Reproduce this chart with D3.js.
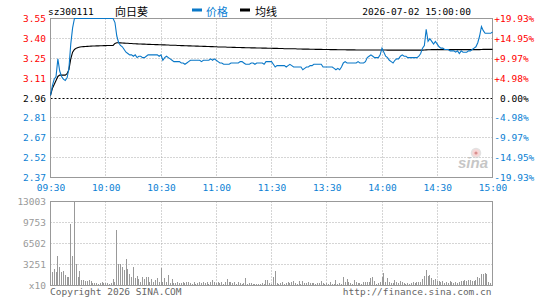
<!DOCTYPE html>
<html><head><meta charset="utf-8">
<script src="https://cdn.jsdelivr.net/npm/d3@7"></script>
<style>
body{margin:0;background:#fff;}
svg{display:block;}
text{font-family:"DejaVu Sans Mono","Liberation Mono",monospace;font-size:9.5px;}
.cjk{font-family:"Noto Sans CJK SC",sans-serif;font-size:11px;}
</style></head>
<body><svg id="c" width="545" height="300"></svg>
<script>
// ---------- DATA ----------
const code = "sz300111";
const stockName = "向日葵";
const dateText = "2026-07-02 15:00:00";
const prevClose = 2.96;
const timeLabels = ["09:30","10:00","10:30","11:00","11:30","13:30","14:00","14:30","15:00"];
const timeTickMinutes = [0,30,60,90,120,150,180,210,240];
const priceTickValues = [3.55,3.4025,3.255,3.1075,2.96,2.8125,2.665,2.5175,2.37];
const priceTickLabels = ["3.55","3.40","3.25","3.11","2.96","2.81","2.67","2.52","2.37"];
const pctTickLabels = ["+19.93%","+14.95%","+9.97%","+4.98%"," 0.00%","-4.98%","-9.97%","-14.95%","-19.93%"];
const volTickValues = [13003,9753,6502,3251,0];
const volTickLabels = ["13003","9753","6502","3251","x10"];

// one value per minute, 09:30 .. 15:00 (241 points)
const price = [
2.98,3.05,3.10,3.12,3.25,3.16,3.12,3.10,3.09,3.11,
3.18,3.36,3.48,3.55,3.55,3.55,3.55,3.55,3.55,3.55,
3.55,3.55,3.55,3.55,3.55,3.55,3.55,3.55,3.55,3.55,
3.55,3.55,3.55,3.55,3.55,3.52,3.42,3.37,3.35,3.34,
3.32,3.30,3.29,3.28,3.28,3.27,3.28,3.26,3.27,3.27,
3.26,3.26,3.27,3.28,3.28,3.28,3.28,3.28,3.28,3.27,
3.28,3.24,3.26,3.27,3.26,3.25,3.24,3.23,3.23,3.23,
3.23,3.22,3.22,3.21,3.22,3.23,3.24,3.24,3.24,3.24,
3.24,3.24,3.23,3.24,3.24,3.24,3.24,3.25,3.24,3.25,
3.24,3.23,3.22,3.22,3.21,3.21,3.21,3.21,3.22,3.22,
3.22,3.22,3.22,3.23,3.23,3.22,3.21,3.21,3.21,3.22,
3.22,3.21,3.22,3.22,3.22,3.22,3.21,3.23,3.23,3.23,
3.23,3.21,3.19,3.20,3.20,3.20,3.20,3.20,3.19,3.20,
3.21,3.20,3.19,3.19,3.19,3.19,3.19,3.17,3.18,3.19,
3.19,3.20,3.20,3.21,3.21,3.21,3.21,3.21,3.19,3.19,
3.19,3.19,3.19,3.19,3.18,3.17,3.18,3.17,3.19,3.22,
3.23,3.22,3.22,3.22,3.22,3.22,3.22,3.23,3.22,3.22,
3.22,3.23,3.26,3.27,3.28,3.27,3.26,3.26,3.26,3.28,
3.33,3.30,3.27,3.26,3.24,3.23,3.22,3.24,3.25,3.25,
3.27,3.28,3.27,3.27,3.26,3.26,3.26,3.26,3.26,3.26,
3.27,3.29,3.33,3.35,3.47,3.38,3.40,3.38,3.36,3.38,
3.36,3.34,3.33,3.33,3.32,3.32,3.32,3.31,3.31,3.31,
3.30,3.31,3.29,3.31,3.30,3.30,3.30,3.31,3.31,3.32,
3.33,3.34,3.37,3.42,3.49,3.46,3.44,3.44,3.44,3.44,
3.45];

const avgPrice = [
2.98,3.03,3.06,3.09,3.12,3.13,3.13,3.13,3.13,3.14,
3.17,3.25,3.30,3.32,3.33,3.335,3.338,3.340,3.341,3.342,
3.343,3.344,3.345,3.346,3.346,3.347,3.347,3.348,3.348,3.349,
3.349,3.350,3.350,3.350,3.350,3.365,3.370,3.370,3.369,3.368,
3.367,3.366,3.366,3.365,3.364,3.363,3.363,3.362,3.361,3.361,
3.360,3.360,3.359,3.358,3.358,3.357,3.357,3.356,3.356,3.355,
3.355,3.354,3.354,3.353,3.353,3.352,3.352,3.351,3.351,3.350,
3.350,3.349,3.349,3.348,3.348,3.347,3.347,3.346,3.346,3.345,
3.345,3.344,3.344,3.343,3.343,3.342,3.342,3.341,3.341,3.340,
3.340,3.339,3.339,3.339,3.338,3.338,3.337,3.337,3.337,3.336,
3.336,3.335,3.335,3.335,3.334,3.334,3.333,3.333,3.333,3.332,
3.332,3.332,3.331,3.331,3.331,3.330,3.330,3.330,3.329,3.329,
3.329,3.328,3.328,3.328,3.327,3.327,3.327,3.326,3.326,3.326,
3.326,3.325,3.325,3.325,3.324,3.324,3.324,3.323,3.323,3.323,
3.323,3.322,3.322,3.322,3.321,3.321,3.321,3.321,3.320,3.320,
3.320,3.320,3.319,3.319,3.319,3.319,3.318,3.318,3.318,3.318,
3.318,3.317,3.317,3.317,3.317,3.317,3.316,3.316,3.316,3.316,
3.316,3.316,3.316,3.316,3.316,3.316,3.316,3.316,3.316,3.316,
3.316,3.316,3.316,3.315,3.315,3.315,3.315,3.315,3.315,3.315,
3.315,3.315,3.315,3.315,3.315,3.315,3.315,3.315,3.315,3.315,
3.315,3.315,3.315,3.316,3.317,3.318,3.318,3.319,3.319,3.319,
3.319,3.319,3.319,3.319,3.319,3.319,3.319,3.319,3.319,3.319,
3.319,3.319,3.319,3.319,3.319,3.319,3.319,3.319,3.319,3.319,
3.319,3.319,3.319,3.319,3.320,3.321,3.321,3.321,3.321,3.321,
3.321];

// volume per minute, 09:31 .. 15:00 (240 bars, units of 10 shares)
const volume = [
2064,2528,2064,4490,2940,2064,2270,1548,1290,1393,
9494,4490,13003,3302,1393,2270,826,826,671,671,
826,671,361,310,310,206,361,516,310,310,
361,206,310,980,619,8617,3302,3302,2838,2425,
4077,2528,1754,1290,2838,1135,1445,980,619,1290,
980,1290,1290,619,980,516,826,1135,516,2683,
516,1135,516,1548,361,980,310,361,516,361,
361,619,361,516,619,361,206,516,206,361,
619,361,516,361,619,206,516,826,516,310,
516,361,516,206,619,980,516,516,310,516,
206,516,361,206,310,1135,206,361,361,206,
206,206,206,206,310,206,826,826,310,206,
1290,2270,310,206,361,516,206,361,516,361,
516,671,310,206,671,206,671,361,361,516,
361,361,361,206,361,361,671,361,206,361,
206,516,206,206,826,206,361,206,1290,516,
980,516,361,206,826,619,361,361,206,516,
516,516,516,1135,1290,671,206,310,516,1290,
1909,516,1135,516,361,361,826,516,361,671,
516,361,206,361,206,361,516,361,516,619,
619,980,1445,2373,1445,1600,1135,826,980,671,
671,516,671,361,516,361,671,516,361,516,
361,516,671,671,826,671,826,826,671,671,
826,1290,1135,1754,1754,1909,1754,516,361,310];

// ---------- DRAW ----------
const RED = "#ff0000", BLUE = "#0b7fd4", LINE_BLUE = "#0a78c8", GRAY = "#999";
const svg = d3.select("#c");
const L = 50.5, R = 492.5;
const x = d3.scaleLinear().domain([0,240]).range([L,R]);
const y = d3.scaleLinear().domain([2.37,3.55]).range([177.5,18.5]);
const yv = d3.scaleLinear().domain([0,13003]).range([285.5,201.5]);
const crisp = v => Math.floor(v) + 0.5;

// price panel grid
const grid = svg.append("g");
priceTickValues.forEach((v,i)=>{
  if (i===0 || i===priceTickValues.length-1) return;
  const yy = crisp(y(v));
  grid.append("line").attr("x1",L).attr("x2",R).attr("y1",yy).attr("y2",yy)
    .attr("stroke", v===prevClose ? "#000" : "#aaa")
    .attr("stroke-dasharray", v===prevClose ? "2,2" : "1,2");
});
timeTickMinutes.slice(1,-1).forEach(m=>{
  const xx = crisp(x(m));
  grid.append("line").attr("x1",xx).attr("x2",xx).attr("y1",18.5).attr("y2",177.5)
    .attr("stroke","#aaa").attr("stroke-dasharray","1,2");
  grid.append("line").attr("x1",xx).attr("x2",xx).attr("y1",201.5).attr("y2",285.5)
    .attr("stroke","#aaa").attr("stroke-dasharray","1,2");
});
volTickValues.slice(1,-1).forEach(v=>{
  const yy = crisp(yv(v));
  grid.append("line").attr("x1",L).attr("x2",R).attr("y1",yy).attr("y2",yy)
    .attr("stroke","#aaa").attr("stroke-dasharray","1,2");
});

// sina watermark
const wm = svg.append("g").attr("opacity",0.55);
wm.append("circle").attr("cx",476).attr("cy",153).attr("r",4.5).attr("fill","#f2b8b8").attr("stroke","#ccc").attr("stroke-width",1.5);
wm.append("circle").attr("cx",476).attr("cy",153).attr("r",1.6).attr("fill","#b33");
wm.append("text").attr("x",458).attr("y",168).attr("fill","#999")
  .style("font-family","'Liberation Sans',Arial,sans-serif").style("font-size","15px")
  .style("font-weight","bold").style("font-style","italic").text("sina");

// borders
svg.append("rect").attr("x",L).attr("y",18.5).attr("width",R-L).attr("height",159)
  .attr("fill","none").attr("stroke",GRAY);
svg.append("rect").attr("x",L).attr("y",201.5).attr("width",R-L).attr("height",84)
  .attr("fill","none").attr("stroke",GRAY);

// volume bars
svg.append("g").selectAll("rect").data(volume).join("rect")
  .attr("x",(d,i)=>Math.floor(x(i+1))).attr("width",1)
  .attr("y",d=>Math.round(yv(d))).attr("height",d=>285-Math.round(yv(d)))
  .attr("fill","#999").attr("shape-rendering","crispEdges");

// lines
svg.append("path").datum(avgPrice).attr("fill","none").attr("stroke","#000").attr("stroke-width",1.1)
  .attr("d", d3.line().x((d,i)=>x(i)).y(d=>y(d)));
svg.append("path").datum(price).attr("fill","none").attr("stroke",LINE_BLUE).attr("stroke-width",1.1)
  .attr("d", d3.line().x((d,i)=>x(i)).y(d=>y(d)));

// axes
const colorFor = v => v>prevClose+1e-6 ? RED : (v<prevClose-1e-6 ? BLUE : "#000");
const ax1 = svg.append("g").attr("transform",`translate(${L},0)`)
  .call(d3.axisLeft(y).tickValues(priceTickValues).tickSize(0).tickPadding(4.5)
    .tickFormat((d,i)=>priceTickLabels[i]));
ax1.select(".domain").remove();
ax1.selectAll("text").attr("fill",d=>colorFor(d)).style("font-size","9.5px")
  .style("font-family","'DejaVu Sans Mono',monospace");

const ax2 = svg.append("g").attr("transform",`translate(${R},0)`)
  .call(d3.axisRight(y).tickValues(priceTickValues).tickSize(0).tickPadding(1.8)
    .tickFormat((d,i)=>pctTickLabels[i]));
ax2.select(".domain").remove();
ax2.selectAll("text").attr("fill",d=>colorFor(d)).style("white-space","pre").style("font-size","9.5px")
  .style("font-family","'DejaVu Sans Mono',monospace");

const ax3 = svg.append("g").attr("transform",`translate(0,178)`)
  .call(d3.axisBottom(x).tickValues(timeTickMinutes).tickSize(0).tickPadding(6.5)
    .tickFormat((d,i)=>timeLabels[i]));
ax3.select(".domain").remove();
ax3.selectAll("text").attr("fill",BLUE).style("font-size","9.5px")
  .style("font-family","'DejaVu Sans Mono',monospace");

const ax4 = svg.append("g").attr("transform",`translate(${L},0)`)
  .call(d3.axisLeft(yv).tickValues(volTickValues).tickSize(0).tickPadding(4.5)
    .tickFormat((d,i)=>volTickLabels[i]));
ax4.select(".domain").remove();
ax4.selectAll("text").attr("fill",GRAY).style("font-size","9.5px")
  .style("font-family","'DejaVu Sans Mono',monospace");

// header
svg.append("text").attr("x",48).attr("y",15).attr("fill","#000").text(code);
svg.append("text").attr("class","cjk").attr("x",115).attr("y",15.5).attr("fill","#000").text(stockName);
svg.append("rect").attr("x",192).attr("y",8.5).attr("width",10).attr("height",3).attr("fill",LINE_BLUE);
svg.append("text").attr("class","cjk").attr("x",206).attr("y",15.5).attr("fill",BLUE).text("价格");
svg.append("rect").attr("x",240).attr("y",8.5).attr("width",10).attr("height",3).attr("fill","#000");
svg.append("text").attr("class","cjk").attr("x",255).attr("y",15.5).attr("fill","#000").text("均线");
svg.append("text").attr("x",471).attr("y",15).attr("text-anchor","end").attr("fill","#000").text(dateText);

// footer
svg.append("text").attr("x",50).attr("y",295).attr("fill","#666").text("Copyright 2026 SINA.COM");
svg.append("text").attr("x",491.5).attr("y",295).attr("text-anchor","end").attr("fill","#666").text("http://finance.sina.com.cn");
</script></body></html>
